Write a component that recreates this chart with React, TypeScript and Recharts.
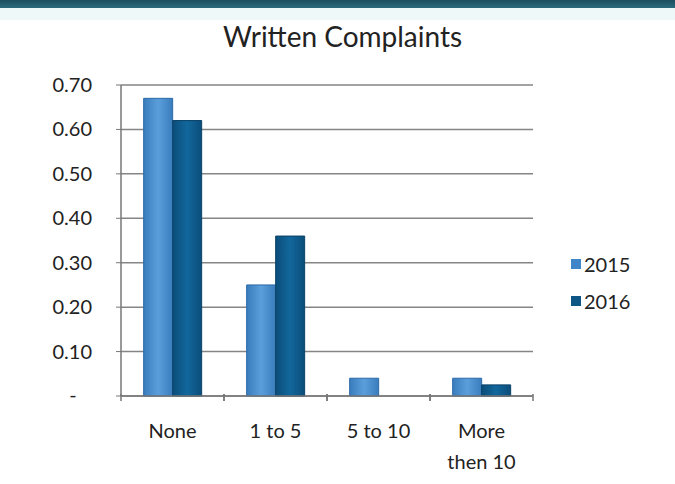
import { BarChart, Bar, XAxis, YAxis, CartesianGrid } from "recharts";

const categories = ["None", "1 to 5", "5 to 10", "More then 10"];
const values2015 = [0.67, 0.25, 0.04, 0.04];
const values2016 = [0.62, 0.36, 0, 0.025];
const yTicks = [0, 0.1, 0.2, 0.3, 0.4, 0.5, 0.6, 0.7];

const FONT = "Lato, 'Open Sans', sans-serif";
const C2015 = "#3f86c8";
const C2016 = "#0d5686";

const data = categories.map((name, i) => ({
  name,
  y2015: values2015[i],
  y2016: values2016[i],
}));

// long labels go onto two lines, first word on top
function splitLabel(s: string): string[] {
  if (s.length <= 8) return [s];
  const i = s.indexOf(" ");
  return [s.slice(0, i), s.slice(i + 1)];
}

function YTick({ x, y, payload }: any) {
  const v = payload.value as number;
  if (v === 0) {
    return (
      <text x={x - 41} y={y} dy={6} textAnchor="middle" fontSize={20} fill="#222" fontFamily={FONT}>
        -
      </text>
    );
  }
  return (
    <text x={x - 22} y={y} dy={7} textAnchor="end" fontSize={20} fill="#222" fontFamily={FONT}>
      {v.toFixed(2)}
    </text>
  );
}

function XTick({ x, y, payload }: any) {
  const half = 51.5;
  const lines = splitLabel(payload.value);
  return (
    <g>
      <line x1={x - half} y1={y - 10} x2={x - half} y2={y - 3} stroke="#777" strokeWidth={1.5} />
      <line x1={x + half} y1={y - 10} x2={x + half} y2={y - 3} stroke="#777" strokeWidth={1.5} />
      {lines.map((l, i) => (
        <text key={i} x={x} y={y + 34 + i * 31} textAnchor="middle" fontSize={20} fill="#222" fontFamily={FONT}>
          {l}
        </text>
      ))}
    </g>
  );
}

function LegendBox() {
  const items = [
    { label: "2015", color: C2015 },
    { label: "2016", color: C2016 },
  ];
  return (
    <div style={{ position: "absolute", left: 571, top: 245, fontFamily: FONT, fontSize: 20, color: "#222" }}>
      {items.map((it) => (
        <div key={it.label} style={{ display: "flex", alignItems: "center", height: 37 }}>
          <span style={{ width: 10, height: 10, background: it.color, display: "inline-block", marginRight: 3 }} />
          <span>{it.label}</span>
        </div>
      ))}
    </div>
  );
}

export default function App() {
  return (
    <div style={{ position: "fixed", left: 0, top: 0, width: 675, height: 484, background: "#fff", overflow: "hidden" }}>
      <div
        style={{
          position: "absolute",
          left: 0,
          top: 0,
          width: 675,
          height: 8,
          background: "linear-gradient(#1d4f60, #2b6b7c)",
        }}
      />
      <div
        style={{
          position: "absolute",
          left: 0,
          top: 8,
          width: 675,
          height: 12,
          background: "#eef8f8",
        }}
      />
      <div
        style={{
          position: "absolute",
          left: 0,
          top: 19,
          width: 675,
          textAlign: "center",
          fontFamily: FONT,
          fontSize: 28,
          color: "#222",
          paddingLeft: 5,
        }}
      >
        Written Complaints
      </div>
      <BarChart
        width={675}
        height={484}
        data={data}
        margin={{ top: 85, right: 142, bottom: 0, left: 0 }}
        barCategoryGap="22%"
        barGap={0}
      >
        <defs>
          <linearGradient id="g2015" x1="0" y1="0" x2="1" y2="0">
            <stop offset="0%" stopColor="#3a7cbc" />
            <stop offset="50%" stopColor="#5a9fdc" />
            <stop offset="100%" stopColor="#3a7cbc" />
          </linearGradient>
          <linearGradient id="g2016" x1="0" y1="0" x2="1" y2="0">
            <stop offset="0%" stopColor="#0b4d7a" />
            <stop offset="50%" stopColor="#12679c" />
            <stop offset="100%" stopColor="#0b4d7a" />
          </linearGradient>
        </defs>
        <CartesianGrid vertical={false} stroke="#858585" strokeWidth={1.5} />
        <YAxis
          width={121}
          domain={[0, 0.7]}
          ticks={yTicks}
          interval={0}
          tick={<YTick />}
          tickSize={5}
          tickLine={{ stroke: "#777" }}
          axisLine={{ stroke: "#777", strokeWidth: 1.5 }}
        />
        <XAxis
          dataKey="name"
          tick={<XTick />}
          tickLine={false}
          axisLine={{ stroke: "#777", strokeWidth: 1.5 }}
          interval={0}
          height={88}
        />
        <Bar dataKey="y2015" name="2015" fill="url(#g2015)" stroke="#2b6aa8" isAnimationActive={false} />
        <Bar dataKey="y2016" name="2016" fill="url(#g2016)" stroke="#0a4268" isAnimationActive={false} />
      </BarChart>
      <LegendBox />
    </div>
  );
}
